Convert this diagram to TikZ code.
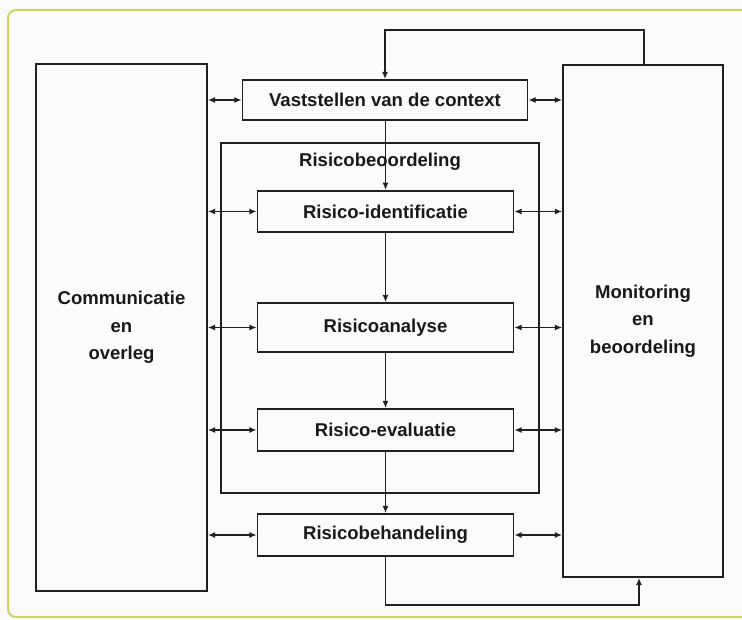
\documentclass[tikz,border=0pt]{standalone}
\usepackage{fontspec}
\setmainfont{Liberation Sans}
\usetikzlibrary{arrows.meta}
\definecolor{ln}{RGB}{32,32,32}
\definecolor{tx}{RGB}{25,25,25}
\definecolor{frame}{RGB}{205,212,90}
\definecolor{bg}{RGB}{251,251,252}
\tikzset{
  box/.style={draw=ln, line width=1.3pt, inner sep=0pt, align=center, text=tx,
              font=\fontsize{13.9pt}{20.6pt}\selectfont\bfseries},
  conn/.style={draw=ln, line width=1.3pt},
  tip/.style={-{Latex[length=5.5pt,width=4.6pt]}},
  dtip/.style={{Latex[length=5.5pt,width=4.6pt]}-{Latex[length=5.5pt,width=4.6pt]}},
  lbl/.style={text=tx, inner sep=0pt, font=\fontsize{13.9pt}{20.6pt}\selectfont\bfseries}
}
\begin{document}
\begin{tikzpicture}[x=0.75pt,y=-0.75pt]
\useasboundingbox (0,0) rectangle (742,620);
\fill[bg] (0,0) rectangle (742,620);
\begin{scope}
\clip (0,0) rectangle (742,620);
\draw[frame, line width=1.5pt, rounded corners=6pt] (8,10) rectangle (780,617);
\end{scope}
% container
\node[box, minimum width=238.5pt, minimum height=262.5pt] (rb) at (380,318) {};
\node[lbl] (rbl) at (380,162) {Risicobeoordeling};
% side boxes
\node[box, minimum width=128.25pt, minimum height=395.25pt] (comm) at (121.5,327.5) {Communicatie\\en\\overleg};
\node[box, minimum width=120pt, minimum height=384pt] (mon) at (643,321) {Monitoring\\en\\beoordeling};
% process boxes
\node[box, minimum width=213.75pt, minimum height=30pt] (vast) at (385,100) {Vaststellen van de context};
\node[box, minimum width=192pt, minimum height=31pt] (ident) at (385.5,211.5) {Risico-identificatie};
\node[box, minimum width=192pt, minimum height=36.75pt] (ana) at (385.5,327.5) {Risicoanalyse};
\node[box, minimum width=192pt, minimum height=31.5pt] (eval) at (385.5,430) {Risico-evaluatie};
\node[box, minimum width=192pt, minimum height=31.5pt] (beh) at (385.5,535) {Risicobehandeling};
% vertical flow
\draw[conn, tip] (ident.north |- vast.south) -- (ident.north);
\draw[conn, tip] (ident.south) -- (ana.north);
\draw[conn, tip] (ana.south) -- (eval.north);
\draw[conn, tip] (eval.south) -- (beh.north);
% horizontal double arrows
\foreach \n in {vast,ident,ana,eval,beh}{
  \draw[conn, dtip] (comm.east |- \n.west) -- (\n.west);
  \draw[conn, dtip] (\n.east) -- (mon.west |- \n.east);
}
% loops
\coordinate (tl) at (644,30);
\coordinate (bl) at (639,605);
\draw[conn, tip] (tl |- mon.north) -- (tl) -| (vast.north);
\draw[conn, tip] (beh.south) |- (bl) -- (bl |- mon.south);
\end{tikzpicture}
\end{document}
